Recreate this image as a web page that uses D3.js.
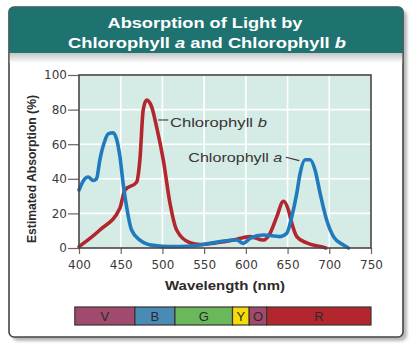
<!DOCTYPE html>
<html>
<head>
<meta charset="utf-8">
<script src="https://cdn.jsdelivr.net/npm/d3@7"></script>
<style>
  html, body { margin: 0; padding: 0; background: #ffffff; }
  svg { display: block; }
</style>
</head>
<body>
<svg id="chart" width="410" height="346"></svg>
<script>
// Absorption spectra (estimated absorption in %)
const wavelengthsA = [400, 407, 411, 417, 421, 425, 431, 435, 441, 445, 449, 453, 457, 463, 473, 489, 510, 530, 545, 569, 589, 597, 605, 621, 641, 649, 655, 661, 665, 671, 677, 683, 689, 697, 705, 717, 723];
const chlorophyllA = [33.5, 40, 41, 39, 40, 51, 62, 66, 66.6, 63, 53, 37, 24, 10.4, 4.6, 1.5, 0.8, 1, 1.7, 3.7, 4.6, 2.7, 5.6, 7.5, 6.6, 8.5, 18, 31.6, 43, 51, 51, 45, 31.6, 16, 6.6, 1.7, 0];

const wavelengthsB = [400, 425, 449, 455, 469, 473, 477, 481, 487, 493, 501, 509, 517, 533, 545, 565, 585, 605, 621, 629, 637, 645, 651, 655, 661, 673, 689, 696];
const chlorophyllB = [0.8, 10.4, 23, 33.5, 38, 51, 80, 85.5, 81.7, 70, 51, 26, 10.4, 3, 2, 3, 4.6, 6.6, 4.6, 8.5, 18, 27, 22, 14.4, 6.6, 2.9, 0.8, 0];

// Axis ticks
const xTicks = [400, 450, 500, 550, 600, 650, 700, 750];
const yTicks = [0, 20, 40, 60, 80, 100];

// Visible spectrum bands (nm boundaries)
const bandNames = ["V", "B", "G", "Y", "O", "R"];
const bandStarts = [395, 467, 515, 584, 604, 625];
const bandEnds = [467, 515, 584, 604, 625, 750];
const bandColors = ["#a04b6d", "#4a8bb6", "#6bb85c", "#f4dc08", "#a04b6d", "#b3262e"];

// Curve labels: text anchor and leader line (wavelength, absorption)
const labelNames = ["Chlorophyll ", "Chlorophyll "];
const labelSuffix = ["b", "a"];
const labelAt = [[509, 72.8], [531, 52.6]];
const labelWidths = [97, 94];
const leaderFrom = [[495, 74], [648, 52.5]];
const leaderTo = [[507, 74], [664, 50.5]];

const svg = d3.select("#chart");
const defs = svg.append("defs");

const blur = defs.append("filter").attr("id", "soft").attr("x", "-10%").attr("y", "-10%").attr("width", "120%").attr("height", "120%");
blur.append("feGaussianBlur").attr("stdDeviation", 1.6);

const band = defs.append("linearGradient").attr("id", "underHeader").attr("x1", 0).attr("y1", 0).attr("x2", 0).attr("y2", 1);
band.append("stop").attr("offset", "0%").attr("stop-color", "#c4c4c4");
band.append("stop").attr("offset", "100%").attr("stop-color", "#ffffff");

// Panel shadow, panel and header
svg.append("rect").attr("x", 12).attr("y", 10).attr("width", 395).attr("height", 331)
  .attr("rx", 6).attr("fill", "#9a9a9a").attr("opacity", 0.7).attr("filter", "url(#soft)");
svg.append("rect").attr("x", 9).attr("y", 7).attr("width", 394).attr("height", 330)
  .attr("rx", 5).attr("fill", "#ffffff").attr("stroke", "#4a4444").attr("stroke-width", 1.6);

const header = d3.path();
header.moveTo(9, 53); header.lineTo(9, 12); header.quadraticCurveTo(9, 7, 14, 7);
header.lineTo(398, 7); header.quadraticCurveTo(403, 7, 403, 12); header.lineTo(403, 53); header.closePath();
svg.append("path").attr("d", header.toString()).attr("fill", "#1e7370");
svg.append("rect").attr("x", 9.8).attr("y", 53).attr("width", 392.4).attr("height", 10).attr("fill", "url(#underHeader)");

const titleLines = ["Absorption of Light by", "Chlorophyll a and Chlorophyll b"];
const title = svg.append("g").attr("fill", "#ffffff").attr("font-family", "Liberation Sans, Arial, sans-serif")
  .attr("font-weight", "bold").attr("font-size", 15).attr("text-anchor", "middle");
title.append("text").attr("x", 205).attr("y", 28).attr("textLength", 195).attr("lengthAdjust", "spacingAndGlyphs")
  .text(titleLines[0]);
const t2 = title.append("text").attr("x", 207).attr("y", 47.5).attr("textLength", 278).attr("lengthAdjust", "spacingAndGlyphs");
t2.append("tspan").text("Chlorophyll ");
t2.append("tspan").attr("font-style", "italic").text("a");
t2.append("tspan").text(" and Chlorophyll ");
t2.append("tspan").attr("font-style", "italic").text("b");

// Scales
const x = d3.scaleLinear().domain([400, 750]).range([79, 371]);
const y = d3.scaleLinear().domain([0, 100]).range([248, 75]);

// Plot background and grid
svg.append("rect").attr("x", x(400)).attr("y", y(100)).attr("width", x(750) - x(400)).attr("height", y(0) - y(100))
  .attr("fill", "#d5ebe5");
const grid = svg.append("g").attr("stroke", "#ffffff").attr("stroke-width", 1.6);
grid.selectAll("line.v").data(xTicks.slice(1, -1)).join("line")
  .attr("x1", d => x(d)).attr("x2", d => x(d)).attr("y1", y(0)).attr("y2", y(100));
grid.selectAll("line.h").data(yTicks.slice(1, -1)).join("line")
  .attr("x1", x(400)).attr("x2", x(750)).attr("y1", d => y(d)).attr("y2", d => y(d));

// Axes
const tickFont = "DejaVu Sans, sans-serif";
const yAxis = svg.append("g").attr("transform", `translate(${x(400)},0)`)
  .call(d3.axisLeft(y).tickValues(yTicks).tickSize(11).tickPadding(1).tickSizeOuter(0));
const xAxis = svg.append("g").attr("transform", `translate(0,${y(0)})`)
  .call(d3.axisBottom(x).tickValues(xTicks).tickSize(6).tickPadding(6).tickSizeOuter(0));
[xAxis, yAxis].forEach(g => {
  g.select(".domain").remove();
  g.selectAll(".tick line").attr("stroke", "#6a6464").attr("stroke-width", 1.2);
  g.selectAll(".tick text").attr("fill", "#3e3a3a").attr("font-family", tickFont).attr("font-size", 12);
});

// Curves
const lineA = d3.line().x((d, i) => x(wavelengthsA[i])).y(d => y(d)).curve(d3.curveMonotoneX);
const lineB = d3.line().x((d, i) => x(wavelengthsB[i])).y(d => y(d)).curve(d3.curveMonotoneX);
svg.append("path").datum(chlorophyllB).attr("d", lineB).attr("fill", "none")
  .attr("stroke", "#b3262e").attr("stroke-width", 3.6).attr("stroke-linejoin", "round").attr("stroke-linecap", "round");
svg.append("path").datum(chlorophyllA).attr("d", lineA).attr("fill", "none")
  .attr("stroke", "#1f7bbd").attr("stroke-width", 3.6).attr("stroke-linejoin", "round").attr("stroke-linecap", "round");

// Plot frame
svg.append("rect").attr("x", x(400)).attr("y", y(100)).attr("width", x(750) - x(400)).attr("height", y(0) - y(100))
  .attr("fill", "none").attr("stroke", "#4a4545").attr("stroke-width", 1.6);

// Curve labels with leader lines
const labels = svg.append("g").attr("font-family", "Liberation Sans, Arial, sans-serif").attr("font-size", 13).attr("fill", "#3a3535");
labelNames.forEach((name, i) => {
  const t = labels.append("text").attr("x", x(labelAt[i][0])).attr("y", y(labelAt[i][1])).attr("dy", "0.36em")
    .attr("textLength", labelWidths[i]).attr("lengthAdjust", "spacingAndGlyphs");
  t.append("tspan").text(name);
  t.append("tspan").attr("font-style", "italic").text(labelSuffix[i]);
  labels.append("line").attr("x1", x(leaderFrom[i][0])).attr("y1", y(leaderFrom[i][1]))
    .attr("x2", x(leaderTo[i][0])).attr("y2", y(leaderTo[i][1])).attr("stroke", "#3a3535").attr("stroke-width", 1.1);
});

// Axis titles
svg.append("text").attr("x", 225).attr("y", 286).attr("dy", "0.36em").attr("text-anchor", "middle")
  .attr("font-family", "Liberation Sans, Arial, sans-serif").attr("font-weight", "bold").attr("font-size", 12)
  .attr("fill", "#2e2a2a").attr("textLength", 120).attr("lengthAdjust", "spacingAndGlyphs").text("Wavelength (nm)");
svg.append("text").attr("transform", "translate(32,169) rotate(-90)").attr("dy", "0.36em").attr("text-anchor", "middle")
  .attr("font-family", "Liberation Sans, Arial, sans-serif").attr("font-weight", "bold").attr("font-size", 12)
  .attr("fill", "#2e2a2a").attr("textLength", 148).attr("lengthAdjust", "spacingAndGlyphs").text("Estimated Absorption (%)");

// Visible spectrum bar
const spec = svg.append("g");
spec.selectAll("rect").data(bandNames).join("rect")
  .attr("x", (d, i) => x(bandStarts[i])).attr("y", 307)
  .attr("width", (d, i) => x(bandEnds[i]) - x(bandStarts[i])).attr("height", 18)
  .attr("fill", (d, i) => bandColors[i]).attr("stroke", "#3a3333").attr("stroke-width", 1.2);
spec.selectAll("text").data(bandNames).join("text")
  .attr("x", (d, i) => (x(bandStarts[i]) + x(bandEnds[i])) / 2).attr("y", 316).attr("dy", "0.36em")
  .attr("text-anchor", "middle").attr("font-family", "Liberation Sans, Arial, sans-serif").attr("font-size", 13)
  .attr("fill", "#2e2a2a").text(d => d);
</script>
</body>
</html>
